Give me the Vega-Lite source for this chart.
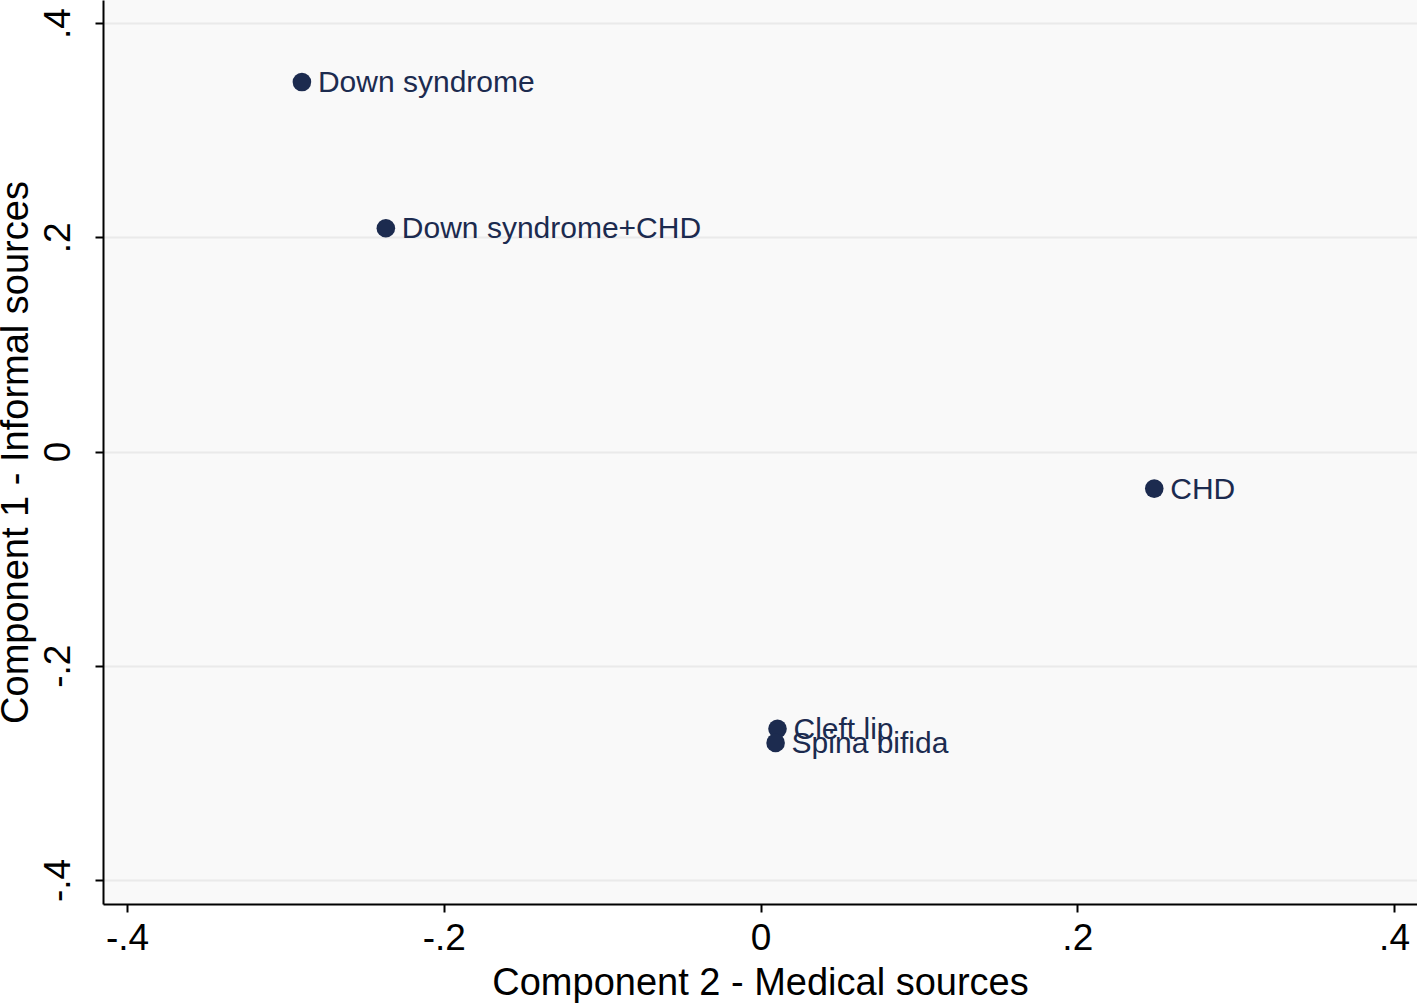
{
  "$schema": "https://vega.github.io/schema/vega-lite/v6.json",
  "width": 1314,
  "height": 904,
  "autosize": "none",
  "padding": {"left": 103, "top": 0, "right": 0, "bottom": 99},
  "background": "white",
  "config": {
    "view": {"fill": "#f9f9f9", "stroke": null},
    "font": "Liberation Sans"
  },
  "data": {
    "values": [
      {"label": "Down syndrome", "comp2": -0.2896, "comp1": 0.3449},
      {"label": "Down syndrome+CHD", "comp2": -0.2366, "comp1": 0.2084},
      {"label": "CHD", "comp2": 0.2486, "comp1": -0.0346},
      {"label": "Cleft lip", "comp2": 0.0107, "comp1": -0.2589},
      {"label": "Spina bifida", "comp2": 0.0095, "comp1": -0.2720}
    ]
  },
  "encoding": {
    "x": {
      "field": "comp2", "type": "quantitative",
      "scale": {"domain": [-0.4152, 0.4145], "nice": false, "zero": false},
      "axis": {
        "title": "Component 2 - Medical sources",
        "values": [-0.4, -0.2, 0, 0.2, 0.4],
        "labelExpr": "datum.value == 0 ? '0' : replace(replace(format(datum.value, '.1f'), '\u2212', '-'), '0.', '.')",
        "grid": false,
        "domainColor": "#000000", "domainWidth": 2,
        "tickColor": "#000000", "tickWidth": 2, "tickSize": 8,
        "labelFontSize": 37, "labelColor": "#000000", "labelPadding": 8,
        "labelFlush": false,
        "titleFontSize": 38, "titleFontWeight": "normal", "titleColor": "#000000", "titlePadding": 8
      }
    },
    "y": {
      "field": "comp1", "type": "quantitative",
      "scale": {"domain": [-0.4224, 0.4215], "nice": false, "zero": false},
      "axis": {
        "title": "Component 1 - Informal sources",
        "values": [-0.4, -0.2, 0, 0.2, 0.4],
        "labelExpr": "datum.value == 0 ? '0' : replace(replace(format(datum.value, '.1f'), '\u2212', '-'), '0.', '.')",
        "grid": true, "gridColor": "#eaeaea", "gridWidth": 2,
        "domainColor": "#000000", "domainWidth": 2,
        "tickColor": "#000000", "tickWidth": 2, "tickSize": 8,
        "labelFontSize": 37, "labelColor": "#000000",
        "labelAngle": -90, "labelAlign": "center", "labelBaseline": "bottom", "labelPadding": 18,
        "labelFlush": false,
        "titleFontSize": 38, "titleFontWeight": "normal", "titleColor": "#000000", "titlePadding": 4
      }
    }
  },
  "layer": [
    {
      "mark": {"type": "point", "filled": true, "size": 346, "color": "#1c2b4f", "opacity": 1, "shape": "circle"}
    },
    {
      "mark": {"type": "text", "align": "left", "baseline": "middle", "dx": 16, "dy": 1, "fontSize": 30, "color": "#1c2b4f"},
      "encoding": {"text": {"field": "label"}}
    }
  ]
}
